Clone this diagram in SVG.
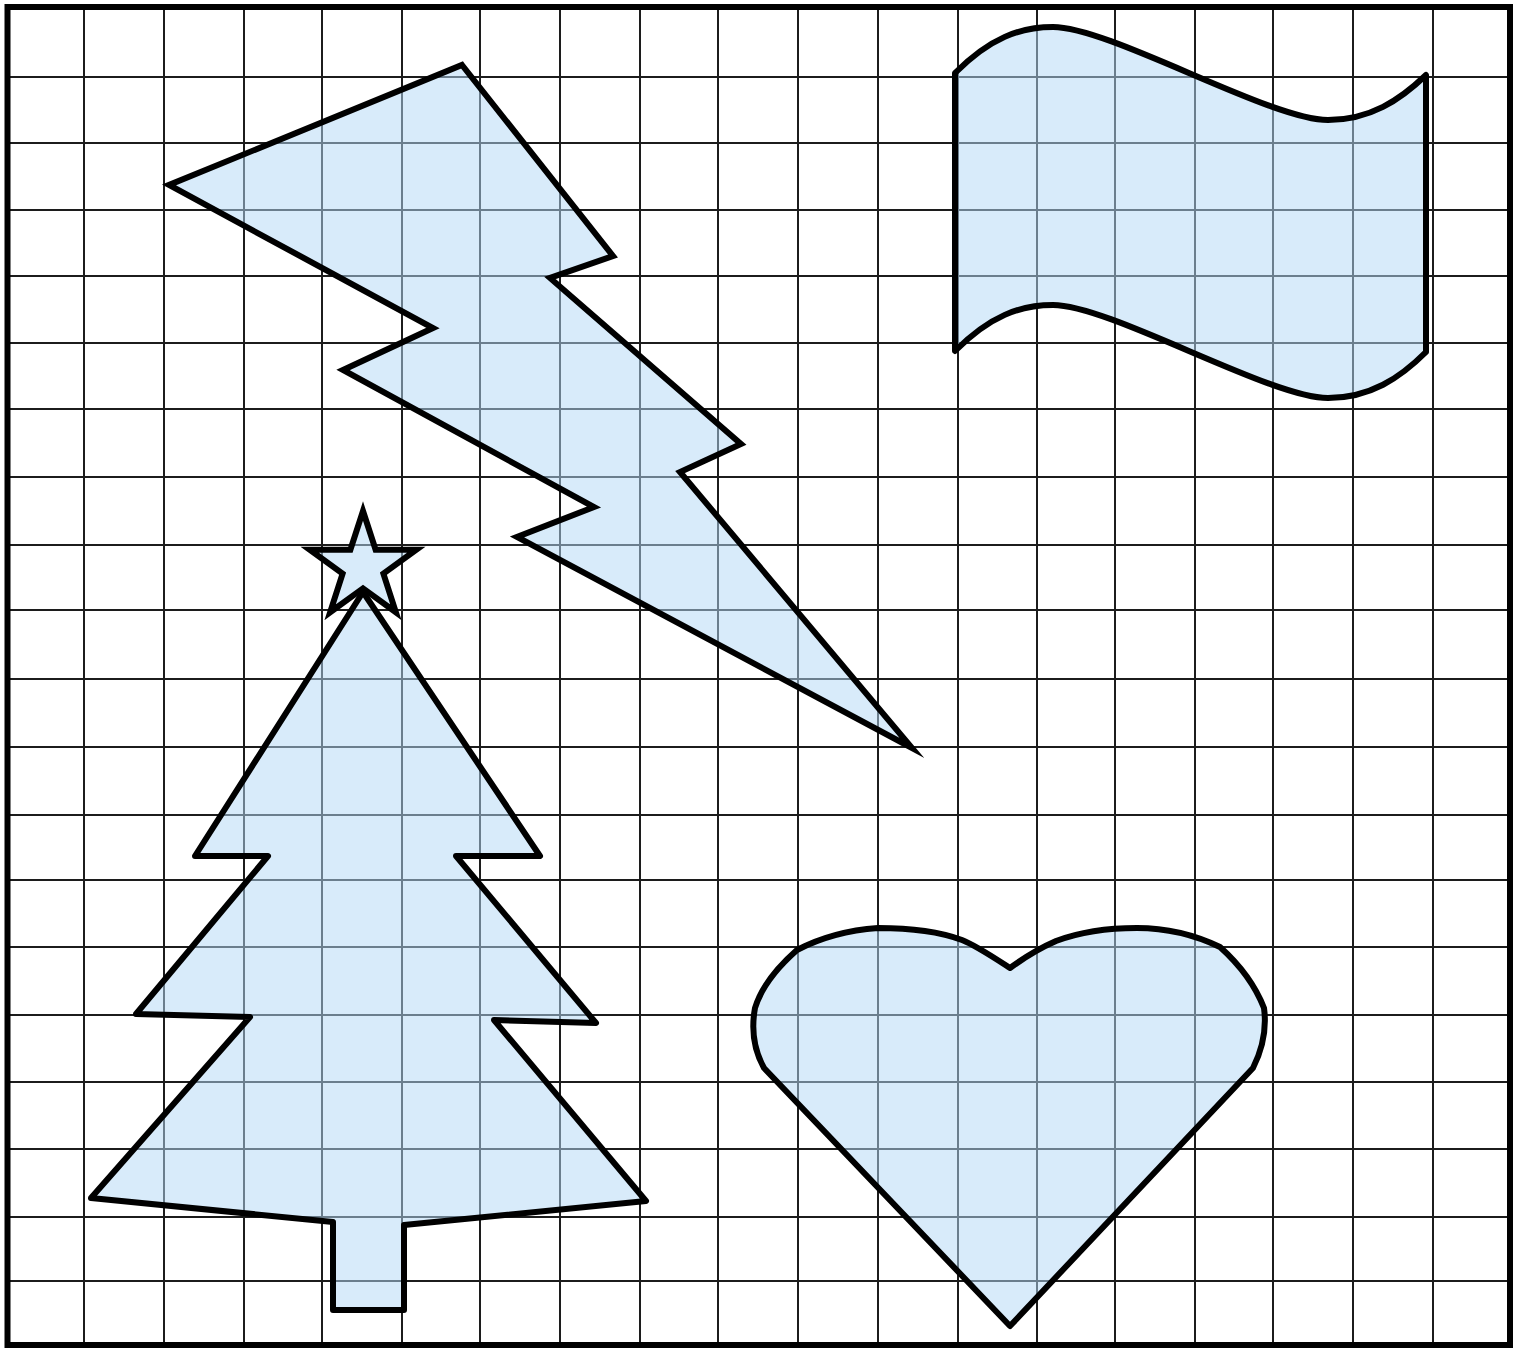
<svg xmlns="http://www.w3.org/2000/svg" width="1516" height="1349" viewBox="0 0 1516 1349">
  <style>
    .grid { stroke: #1c1c1c; stroke-width: 2; fill: none; }
    .shape { fill: #b4d8f6; fill-opacity: 0.52; stroke: #000; stroke-width: 6; stroke-linejoin: miter; stroke-miterlimit: 10; }
    .round { stroke-linejoin: round; }
    .border { fill: none; stroke: #000; stroke-width: 6; }
  </style>
  <rect x="0" y="0" width="1516" height="1349" fill="#ffffff"/>
  <g id="grid">
    <path class="grid" d="M84,7V1345 M164,7V1345 M244,7V1345 M322,7V1345 M402,7V1345 M480,7V1345 M560,7V1345 M640,7V1345 M718,7V1345 M798,7V1345 M878,7V1345 M958,7V1345 M1037,7V1345 M1115,7V1345 M1195,7V1345 M1273,7V1345 M1353,7V1345 M1433,7V1345"/>
    <path class="grid" d="M8,77H1510 M8,143H1510 M8,210H1510 M8,276H1510 M8,343H1510 M8,409H1510 M8,477H1510 M8,545H1510 M8,610H1510 M8,679H1510 M8,747H1510 M8,815H1510 M8,880H1510 M8,947H1510 M8,1015H1510 M8,1082H1510 M8,1149H1510 M8,1217H1510 M8,1281H1510"/>
  </g>
  <g id="lightning">
    <polygon class="shape" points="462,65 613,256 550,278 741,444 680,472 912,748 517,537 594,507 343,370 433,328 169,185"/>
  </g>
  <g id="flag">
    <path class="shape round" d="M955,73 C990,38 1020,27 1053,27 C1110,27 1270,120 1328,120 C1370,120 1400,100 1426,75 L1426,352 C1400,378 1370,398 1328,398 C1270,398 1110,305 1053,305 C1020,305 990,316 955,351 Z"/>
  </g>
  <g id="tree">
    <polygon class="shape round" points="363,592 540,856 456,856 596,1023 494,1020 646,1201 404,1225 404,1310 333,1310 333,1222 91,1198 250,1017 136,1014 268,856 195,856"/>
  </g>
  <g id="star">
    <polygon class="shape" points="363,511 375.6,549.7 416.3,549.7 383.4,573.6 395.9,612.3 363,588.4 330.1,612.3 342.6,573.6 309.7,549.7 350.4,549.7"/>
  </g>
  <g id="heart">
    <path class="shape round" d="M1010,968 C990,955 975,945 962,940 C935,930 905,928 878,928 C850,930 820,938 797,950 C780,965 762,985 755,1008 C751,1030 754,1050 764,1068 L1010,1326 L1253,1068 C1262,1050 1267,1030 1264,1008 C1255,985 1240,965 1220,947 C1195,935 1165,928 1137,928 C1105,928 1080,932 1056,941 C1040,948 1025,957 1010,968 Z"/>
  </g>
  <rect class="border" x="7.5" y="7" width="1502.5" height="1338"/>
</svg>
